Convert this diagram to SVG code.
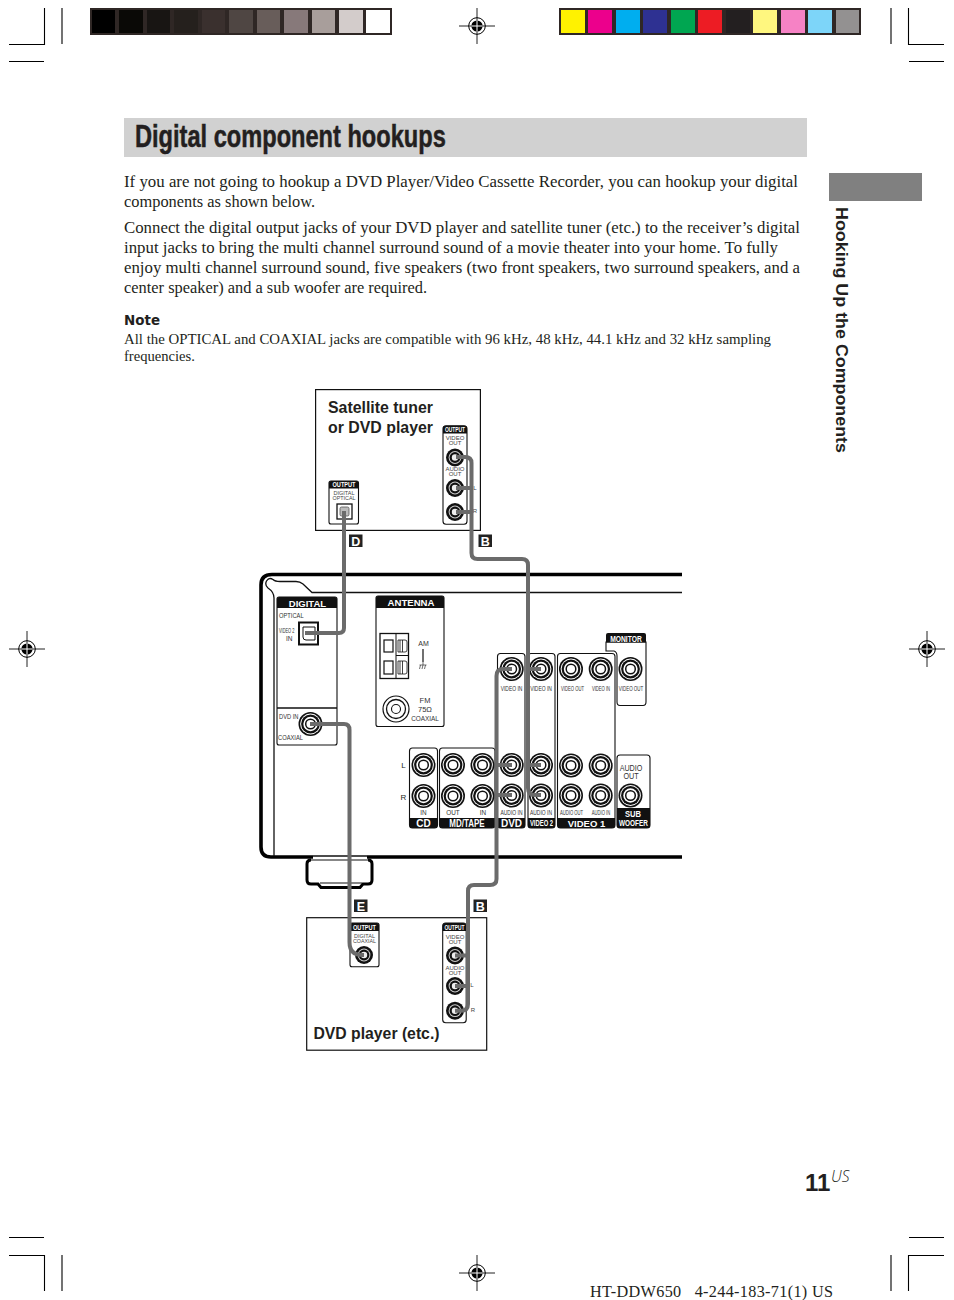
<svg xmlns="http://www.w3.org/2000/svg" xmlns:xlink="http://www.w3.org/1999/xlink" width="954" height="1300" viewBox="0 0 954 1300">
<style>
text{font-family:"Liberation Sans",Arial,sans-serif;fill:#231f20}
.body{font-family:"Liberation Serif","Times New Roman",serif;font-size:16.4px}
.note{font-family:"Liberation Serif","Times New Roman",serif;font-size:14.6px}
.h{font-weight:bold;font-size:16px}
.w{fill:#fff;font-weight:bold;text-anchor:middle}
.g{fill:#444;text-anchor:middle;font-size:6px}
.t{fill:#333;text-anchor:middle;font-size:7.500px}
.n{fill:#333;text-anchor:middle;font-size:8px}
.tl{fill:#333;font-size:8px}
.panel{fill:#fff;stroke:#111;stroke-width:1.100}
.box{fill:#fff;stroke:#111;stroke-width:1.200}
.k{fill:#111}
.crop{stroke:#000;stroke-width:1.100;fill:none}
.cable{fill:none;stroke:#6b6b6b;stroke-width:4;stroke-linejoin:round}
.thick{fill:none;stroke:#000;stroke-width:3.600}
.thin{fill:none;stroke:#111;stroke-width:1.300}
</style>
<defs>
<g id="jack">
<circle r="12" fill="#111"/><circle r="10.400" fill="#fff"/><circle r="9.400" fill="#111"/><circle r="7.200" fill="#fff"/><circle r="4.800" fill="#fff" stroke="#111" stroke-width="1.500"/>
</g>
<g id="sjack">
<circle r="9" fill="#111"/><circle r="6.400" fill="#ccc"/><circle r="5.400" fill="#111"/><circle r="3.200" fill="#eee"/>
</g>
<g id="reg">
<path d="M-18,0H18M0,-18V18" stroke="#222" stroke-width="1" fill="none"/>
<circle r="8.300" fill="none" stroke="#000" stroke-width="1"/>
<circle r="5.600" fill="#000"/>
<path d="M-5.600,0H5.600M0,-5.600V5.600" stroke="#fff" stroke-width="1"/>
</g>
</defs>
<rect width="954" height="1300" fill="#fff"/>

<g id="printer-marks">
<path class="crop" d="M44.500,8V44.500H9M9,61.500H44M62,8V44M891,8V44M908.500,8V44.500H944M909,61.500H944M9,1237.500H44M9,1255.500H44.500V1291M62,1255V1291M909,1237.500H944M944,1255.500H908.500V1291M891,1255V1291"/>
<use xlink:href="#reg" href="#reg" x="477" y="26"/>
<use xlink:href="#reg" href="#reg" x="27" y="649"/>
<use xlink:href="#reg" href="#reg" x="927" y="649"/>
<use xlink:href="#reg" href="#reg" x="477" y="1273"/>
<rect x="90" y="8" width="302" height="27" fill="#2f2725"/>
<rect x="92" y="10" width="23" height="23" fill="#000"/>
<rect x="119" y="10" width="24" height="23" fill="#0a0906"/>
<rect x="147" y="10" width="23" height="23" fill="#181513"/>
<rect x="174" y="10" width="24" height="23" fill="#25201d"/>
<rect x="202" y="10" width="23" height="23" fill="#3a302e"/>
<rect x="229" y="10" width="24" height="23" fill="#4f4643"/>
<rect x="257" y="10" width="23" height="23" fill="#685d5a"/>
<rect x="284" y="10" width="24" height="23" fill="#87797a"/>
<rect x="312" y="10" width="23" height="23" fill="#a89e9b"/>
<rect x="339" y="10" width="24" height="23" fill="#d3cccb"/>
<rect x="366" y="10" width="24" height="23" fill="#fff"/>
<rect x="559" y="8" width="302" height="27" fill="#2f2725"/>
<rect x="561" y="10" width="24" height="23" fill="#fff200"/>
<rect x="588" y="10" width="24" height="23" fill="#ec008c"/>
<rect x="616" y="10" width="24" height="23" fill="#00aeef"/>
<rect x="643" y="10" width="24" height="23" fill="#2e3192"/>
<rect x="671" y="10" width="24" height="23" fill="#00a651"/>
<rect x="698" y="10" width="24" height="23" fill="#ed1c24"/>
<rect x="726" y="10" width="24" height="23" fill="#231f20"/>
<rect x="753" y="10" width="24" height="23" fill="#fff77f"/>
<rect x="781" y="10" width="24" height="23" fill="#f682c5"/>
<rect x="808" y="10" width="24" height="23" fill="#7dd5f9"/>
<rect x="836" y="10" width="23" height="23" fill="#939191"/>
</g>

<g id="page-text">
<rect x="124" y="118" width="683" height="39" fill="#d1d1d1"/>
<text transform="translate(135,146.500) scale(.74,1)" font-size="31" font-weight="bold" stroke="#231f20" stroke-width=".5" textLength="420" lengthAdjust="spacingAndGlyphs">Digital component hookups</text>
<text class="body" x="124" y="187" textLength="674" lengthAdjust="spacingAndGlyphs">If you are not going to hookup a DVD Player/Video Cassette Recorder, you can hookup your digital</text>
<text class="body" x="124" y="207">components as shown below.</text>
<text class="body" x="124" y="233" textLength="676" lengthAdjust="spacingAndGlyphs">Connect the digital output jacks of your DVD player and satellite tuner (etc.) to the receiver’s digital</text>
<text class="body" x="124" y="253" textLength="654" lengthAdjust="spacingAndGlyphs">input jacks to bring the multi channel surround sound of a movie theater into your home. To fully</text>
<text class="body" x="124" y="273" textLength="676" lengthAdjust="spacingAndGlyphs">enjoy multi channel surround sound, five speakers (two front speakers, two surround speakers, and a</text>
<text class="body" x="124" y="293">center speaker) and a sub woofer are required.</text>
<text x="124" y="325" font-size="13.500" font-weight="bold" style="font-family:'DejaVu Sans',sans-serif" textLength="36" lengthAdjust="spacingAndGlyphs">Note</text>
<text class="note" x="124" y="344" textLength="647" lengthAdjust="spacingAndGlyphs">All the OPTICAL and COAXIAL jacks are compatible with 96 kHz, 48 kHz, 44.1 kHz and 32 kHz sampling</text>
<text class="note" x="124" y="361">frequencies.</text>
<rect x="829" y="173" width="93" height="28" fill="#808080"/>
<text transform="translate(835.500,207) rotate(90)" font-size="16.500" font-weight="bold" textLength="246" lengthAdjust="spacingAndGlyphs">Hooking Up the Components</text>
<text x="805" y="1191" font-size="24" font-weight="bold">11</text>
<text x="831" y="1182" font-size="15.500" font-style="italic" style="font-family:'Open Sans',sans-serif;font-weight:300">US</text>
<text x="590" y="1297" style="font-family:'Liberation Serif',serif;font-size:16.200px" xml:space="preserve" textLength="243" lengthAdjust="spacing">HT-DDW650   4-244-183-71(1) US</text>
</g>

<g id="satellite-tuner">
<rect class="box" x="315.600" y="389.600" width="164.800" height="140.800"/>
<text class="h" x="328" y="413" textLength="105" lengthAdjust="spacingAndGlyphs">Satellite tuner</text>
<text class="h" x="328" y="433" textLength="105" lengthAdjust="spacingAndGlyphs">or DVD player</text>
<rect class="panel" x="329" y="481" width="29.500" height="43" rx="2"/>
<path class="k" d="M329,488.500V483Q329,481 331,481H356.500Q358.500,481 358.500,483V488.500Z"/>
<text class="w" transform="translate(344,487.300) scale(.8,1)" font-size="7">OUTPUT</text>
<text class="g" x="344" y="495" font-size="5.500" textLength="21" lengthAdjust="spacingAndGlyphs">DIGITAL</text>
<text class="g" x="344" y="500" font-size="5.500" textLength="23" lengthAdjust="spacingAndGlyphs">OPTICAL</text>
<rect x="337" y="504" width="15" height="15" fill="#fff" stroke="#111" stroke-width="1.300"/>
<rect x="340" y="507" width="9" height="9" rx="1.500" fill="#bbb" stroke="#555" stroke-width="0.800"/>
<rect class="panel" x="443" y="425.700" width="24" height="98.600" rx="3"/>
<path class="k" d="M443,433.500V428Q443,425.700 446,425.700H464Q467,425.700 467,428V433.500Z"/>
<text class="w" transform="translate(455,432.200) scale(.7,1)" font-size="7">OUTPUT</text>
<text class="g" x="455" y="440" font-size="5.500">VIDEO</text>
<text class="g" x="455" y="445" font-size="5.500">OUT</text>
<text class="g" x="455" y="470.500" font-size="5.500">AUDIO</text>
<text class="g" x="455" y="476" font-size="5.500">OUT</text>
<use xlink:href="#sjack" href="#sjack" x="455" y="457.500"/>
<use xlink:href="#sjack" href="#sjack" x="455" y="488"/>
<use xlink:href="#sjack" href="#sjack" x="455" y="512"/>
<text class="g" x="475" y="490" font-size="5.500">L</text>
<text class="g" x="475" y="513" font-size="5.500">R</text>
</g>

<g id="receiver">
<path class="thick" d="M682,574.500H272Q261,574.500 261,585V847Q261,857 271,857H313M367,857H682"/>
<path class="thin" d="M682,592.500H312L303,584Q300,581.500 296,581.500H280Q275,581.500 273,579.500Q269,577 266.500,581Q264.500,585 268,588Q274,592 274,598V856"/>
<path d="M313,856H367" fill="none" stroke="#111" stroke-width="1.500"/>
<path d="M311,860Q307,860 307,864V880Q307,884 311,884H318L321,887.500H360L363,884H368Q372,884 372,880V864Q372,860 368,860" fill="none" stroke="#000" stroke-width="3"/>
<path d="M309,860H370M320,883H362" fill="none" stroke="#111" stroke-width="1.200"/>
</g>

<g id="digital-panel">
<rect class="panel" x="277" y="597" width="60" height="148" rx="2"/>
<path class="k" d="M277,608V599Q277,597 279,597H335Q337,597 337,599V608Z"/>
<text class="w" x="307.500" y="606.500" font-size="9.500">DIGITAL</text>
<path class="thin" d="M277,708H337" stroke-width="1"/>
<text class="tl" transform="translate(279,617.500) scale(.72,1)">OPTICAL</text>
<text class="tl" transform="translate(279,633) scale(.56,1)" style="font-size:7px">VIDEO 2</text>
<text class="tl" x="286" y="641" style="font-size:6.500px">IN</text>
<rect x="299" y="622.500" width="19" height="22" fill="#fff" stroke="#111" stroke-width="2"/>
<path d="M303,627H315V640H306Q303,640 303,637Z" fill="#fff" stroke="#111" stroke-width="1"/>
<text class="tl" transform="translate(279,719) scale(.72,1)">DVD IN</text>
<text class="tl" transform="translate(278,740) scale(.72,1)">COAXIAL</text>
<use xlink:href="#jack" href="#jack" x="310.500" y="724"/>
</g>

<g id="antenna-panel">
<rect class="panel" x="376" y="596" width="68" height="130.500" rx="2"/>
<path class="k" d="M376,608V598Q376,596 378,596H442Q444,596 444,598V608Z"/>
<text class="w" x="411" y="605.500" font-size="9.500" textLength="47" lengthAdjust="spacingAndGlyphs">ANTENNA</text>
<rect x="380" y="633.500" width="28.500" height="45" fill="#fff" stroke="#111" stroke-width="1.300"/>
<path d="M396,633.500V678.500M396,655.500H408.500" stroke="#111" stroke-width="1" fill="none"/>
<rect x="384" y="640" width="9" height="12" fill="#fff" stroke="#111" stroke-width="1.200"/>
<rect x="384" y="661" width="9" height="13" fill="#fff" stroke="#111" stroke-width="1.200"/>
<path d="M398,640H405Q407,640 407,642V650Q407,652 405,652H398ZM400,640V652M402.500,640V652M398,661H405Q407,661 407,663V672Q407,674 405,674H398ZM400,661V674M402.500,661V674" fill="#fff" stroke="#111" stroke-width="0.800"/>
<text class="t" x="423.500" y="646" style="font-size:7px">AM</text>
<path d="M423,649V662" stroke="#111" stroke-width="1.200"/>
<path d="M423,662V665M419.500,665H426.500M420.500,665L419.500,669M423,665L422,669M425.500,665L424.500,669" stroke="#333" stroke-width="0.700" fill="none"/>
<circle cx="396" cy="709" r="13" fill="#fff" stroke="#111" stroke-width="1.200"/>
<circle cx="396" cy="709" r="9.500" fill="none" stroke="#111" stroke-width="1.300"/>
<circle cx="396" cy="709" r="4.500" fill="none" stroke="#111" stroke-width="1.100"/>
<text class="t" x="425" y="703">FM</text>
<text class="t" x="425" y="712">75Ω</text>
<text class="n" transform="translate(425,721) scale(.8,1)">COAXIAL</text>
</g>

<g id="cd-panel">
<rect class="panel" x="409.500" y="748" width="28" height="80" rx="3"/>
<path class="k" d="M409.500,818H437.500V825Q437.500,828 434.500,828H412.500Q409.500,828 409.500,825Z"/>
<text class="w" x="423.500" y="826.500" font-size="10">CD</text>
<text class="n" transform="translate(423.500,815) scale(.8,1)">IN</text>
<use xlink:href="#jack" href="#jack" x="423.500" y="765"/>
<use xlink:href="#jack" href="#jack" x="423.500" y="796"/>
<text x="403.500" y="768" font-size="8" text-anchor="middle" fill="#333">L</text>
<text x="403.500" y="800" font-size="8" text-anchor="middle" fill="#333">R</text>
</g>

<g id="mdtape-panel">
<rect class="panel" x="439.500" y="748" width="55.500" height="80" rx="3"/>
<path class="k" d="M439.500,818H495V825Q495,828 492,828H442.500Q439.500,828 439.500,825Z"/>
<text class="w" transform="translate(467,826.500) scale(.8,1)" font-size="10">MD/TAPE</text>
<text class="n" transform="translate(453,815) scale(.8,1)">OUT</text>
<text class="n" transform="translate(483,815) scale(.8,1)">IN</text>
<use xlink:href="#jack" href="#jack" x="453" y="765"/>
<use xlink:href="#jack" href="#jack" x="453" y="796"/>
<use xlink:href="#jack" href="#jack" x="482.500" y="765"/>
<use xlink:href="#jack" href="#jack" x="482.500" y="796"/>
</g>

<g id="dvd-panel">
<rect class="panel" x="497.500" y="653.500" width="27.500" height="174.500" rx="3"/>
<path class="k" d="M497.500,818H525V825Q525,828 522,828H500.500Q497.500,828 497.500,825Z"/>
<text class="w" x="511.500" y="826.500" font-size="10">DVD</text>
<text class="n" transform="translate(511.500,690.500) scale(.62,1)">VIDEO IN</text>
<text class="n" transform="translate(511.500,815) scale(.62,1)">AUDIO IN</text>
<use xlink:href="#jack" href="#jack" x="511.700" y="669"/>
<use xlink:href="#jack" href="#jack" x="511.700" y="765"/>
<use xlink:href="#jack" href="#jack" x="511.700" y="795.500"/>
</g>

<g id="video2-panel">
<rect class="panel" x="528" y="653.500" width="27" height="174.500" rx="3"/>
<path class="k" d="M528,818H555V825Q555,828 552,828H531Q528,828 528,825Z"/>
<text class="w" transform="translate(541.500,826) scale(.62,1)" font-size="9.500">VIDEO 2</text>
<text class="n" transform="translate(541,690.500) scale(.62,1)">VIDEO IN</text>
<text class="n" transform="translate(541,815) scale(.62,1)">AUDIO IN</text>
<use xlink:href="#jack" href="#jack" x="541" y="669"/>
<use xlink:href="#jack" href="#jack" x="541" y="765"/>
<use xlink:href="#jack" href="#jack" x="541" y="795.500"/>
</g>

<g id="video1-panel">
<rect class="panel" x="557.500" y="653.500" width="57.500" height="174.500" rx="3"/>
<path class="k" d="M557.500,818H615V825Q615,828 612,828H560.500Q557.500,828 557.500,825Z"/>
<text class="w" x="586.500" y="826.500" font-size="9.500">VIDEO 1</text>
<text class="n" transform="translate(572.500,690.500) scale(.52,1)">VIDEO OUT</text>
<text class="n" transform="translate(601,690.500) scale(.52,1)">VIDEO IN</text>
<text class="n" transform="translate(571.500,815) scale(.52,1)">AUDIO OUT</text>
<text class="n" transform="translate(601,815) scale(.52,1)">AUDIO IN</text>
<use xlink:href="#jack" href="#jack" x="571" y="669"/>
<use xlink:href="#jack" href="#jack" x="600.700" y="669"/>
<use xlink:href="#jack" href="#jack" x="571" y="765.500"/>
<use xlink:href="#jack" href="#jack" x="600.700" y="765.500"/>
<use xlink:href="#jack" href="#jack" x="571" y="795.500"/>
<use xlink:href="#jack" href="#jack" x="600.700" y="795.500"/>
</g>

<g id="monitor-panel">
<path class="panel" d="M606,642V651H614Q617,652 617,656V702Q617,705.500 620,705.500H643Q646,705.500 646,702V642Z"/>
<path class="k" d="M606,642.500V635Q606,633 608,633H644Q646,633 646,635V642.500Z"/>
<text class="w" transform="translate(626,641.500) scale(.75,1)" font-size="9">MONITOR</text>
<use xlink:href="#jack" href="#jack" x="630.500" y="669"/>
<text class="n" transform="translate(631,690.500) scale(.56,1)">VIDEO OUT</text>
</g>

<g id="subwoofer-panel">
<rect class="panel" x="617" y="755" width="33" height="73" rx="3"/>
<path class="k" d="M617,808H650V825Q650,828 647,828H620Q617,828 617,825Z"/>
<text class="n" transform="translate(631,771) scale(.8,1)" style="font-size:9px">AUDIO</text>
<text class="n" transform="translate(631,778.500) scale(.8,1)" style="font-size:9px">OUT</text>
<use xlink:href="#jack" href="#jack" x="630.500" y="795.500"/>
<text class="w" transform="translate(633,817) scale(.8,1)" font-size="9.500">SUB</text>
<text class="w" transform="translate(633.500,825.500) scale(.68,1)" font-size="9.500">WOOFER</text>
</g>

<g id="dvd-player">
<rect class="box" x="306.700" y="917.700" width="180" height="132.500"/>
<text x="313.500" y="1039" font-size="16" font-weight="bold" textLength="126" lengthAdjust="spacingAndGlyphs">DVD player (etc.)</text>
<rect class="panel" x="350" y="923" width="29" height="43.700" rx="2"/>
<path class="k" d="M350,931V925Q350,923 352,923H377Q379,923 379,925V931Z"/>
<text class="w" transform="translate(364.500,930) scale(.8,1)" font-size="7">OUTPUT</text>
<text class="g" x="364.500" y="938" font-size="5.500" textLength="21" lengthAdjust="spacingAndGlyphs">DIGITAL</text>
<text class="g" x="364.500" y="943" font-size="5.500" textLength="23" lengthAdjust="spacingAndGlyphs">COAXIAL</text>
<use xlink:href="#sjack" href="#sjack" x="364" y="955"/>
<rect class="panel" x="442.700" y="923" width="23.500" height="99.700" rx="3"/>
<path class="k" d="M442.700,931V926Q442.700,923 445.700,923H463.200Q466.200,923 466.200,926V931Z"/>
<text class="w" transform="translate(454.500,930) scale(.7,1)" font-size="7">OUTPUT</text>
<text class="g" x="455" y="939" font-size="5.500">VIDEO</text>
<text class="g" x="455" y="944" font-size="5.500">OUT</text>
<text class="g" x="455" y="970" font-size="5.500">AUDIO</text>
<text class="g" x="455" y="975" font-size="5.500">OUT</text>
<use xlink:href="#sjack" href="#sjack" x="455" y="955.500"/>
<use xlink:href="#sjack" href="#sjack" x="455" y="986"/>
<use xlink:href="#sjack" href="#sjack" x="455" y="1010.700"/>
<text class="g" x="472" y="987" font-size="5.500">L</text>
<text class="g" x="473" y="1012" font-size="5.500">R</text>
</g>

<g id="connectors">
<path class="cable" d="M344,511V628Q344,633 339,633H305"/>
<path class="cable" d="M456,457H465Q471.500,457 471.500,463V553Q471.500,559 477.500,559H522Q528,559 528,565V788Q528,795 535,795H541"/>
<path class="cable" d="M456,488H471.500M456,512H471.500M528,669H541M528,765H541"/>
<path class="cable" d="M512,669H503Q496.500,669 496.500,676V879Q496.500,885 490,885H474Q468,885 468,891V1004Q468,1010.700 461,1010.700H455"/>
<path class="cable" d="M496.500,765H512M496.500,795H512M455,955.500H468M455,986H468"/>
<path class="cable" d="M310,724H344Q349.500,724 349.500,730V942Q349.500,955 362,955H364"/>
</g>

<g id="cable-labels">
<rect x="349" y="534.500" width="13.500" height="12.500" fill="#222"/>
<text class="w" x="355.800" y="545.500" font-size="12.500">D</text>
<rect x="478.500" y="534.500" width="13.500" height="12.500" fill="#222"/>
<text class="w" x="485.200" y="545.500" font-size="12.500">B</text>
<rect x="354" y="899.500" width="13.500" height="12.500" fill="#222"/>
<text class="w" x="360.800" y="910.500" font-size="12.500">E</text>
<rect x="473.500" y="899.500" width="13.500" height="12.500" fill="#222"/>
<text class="w" x="480.200" y="910.500" font-size="12.500">B</text>
</g>
</svg>
